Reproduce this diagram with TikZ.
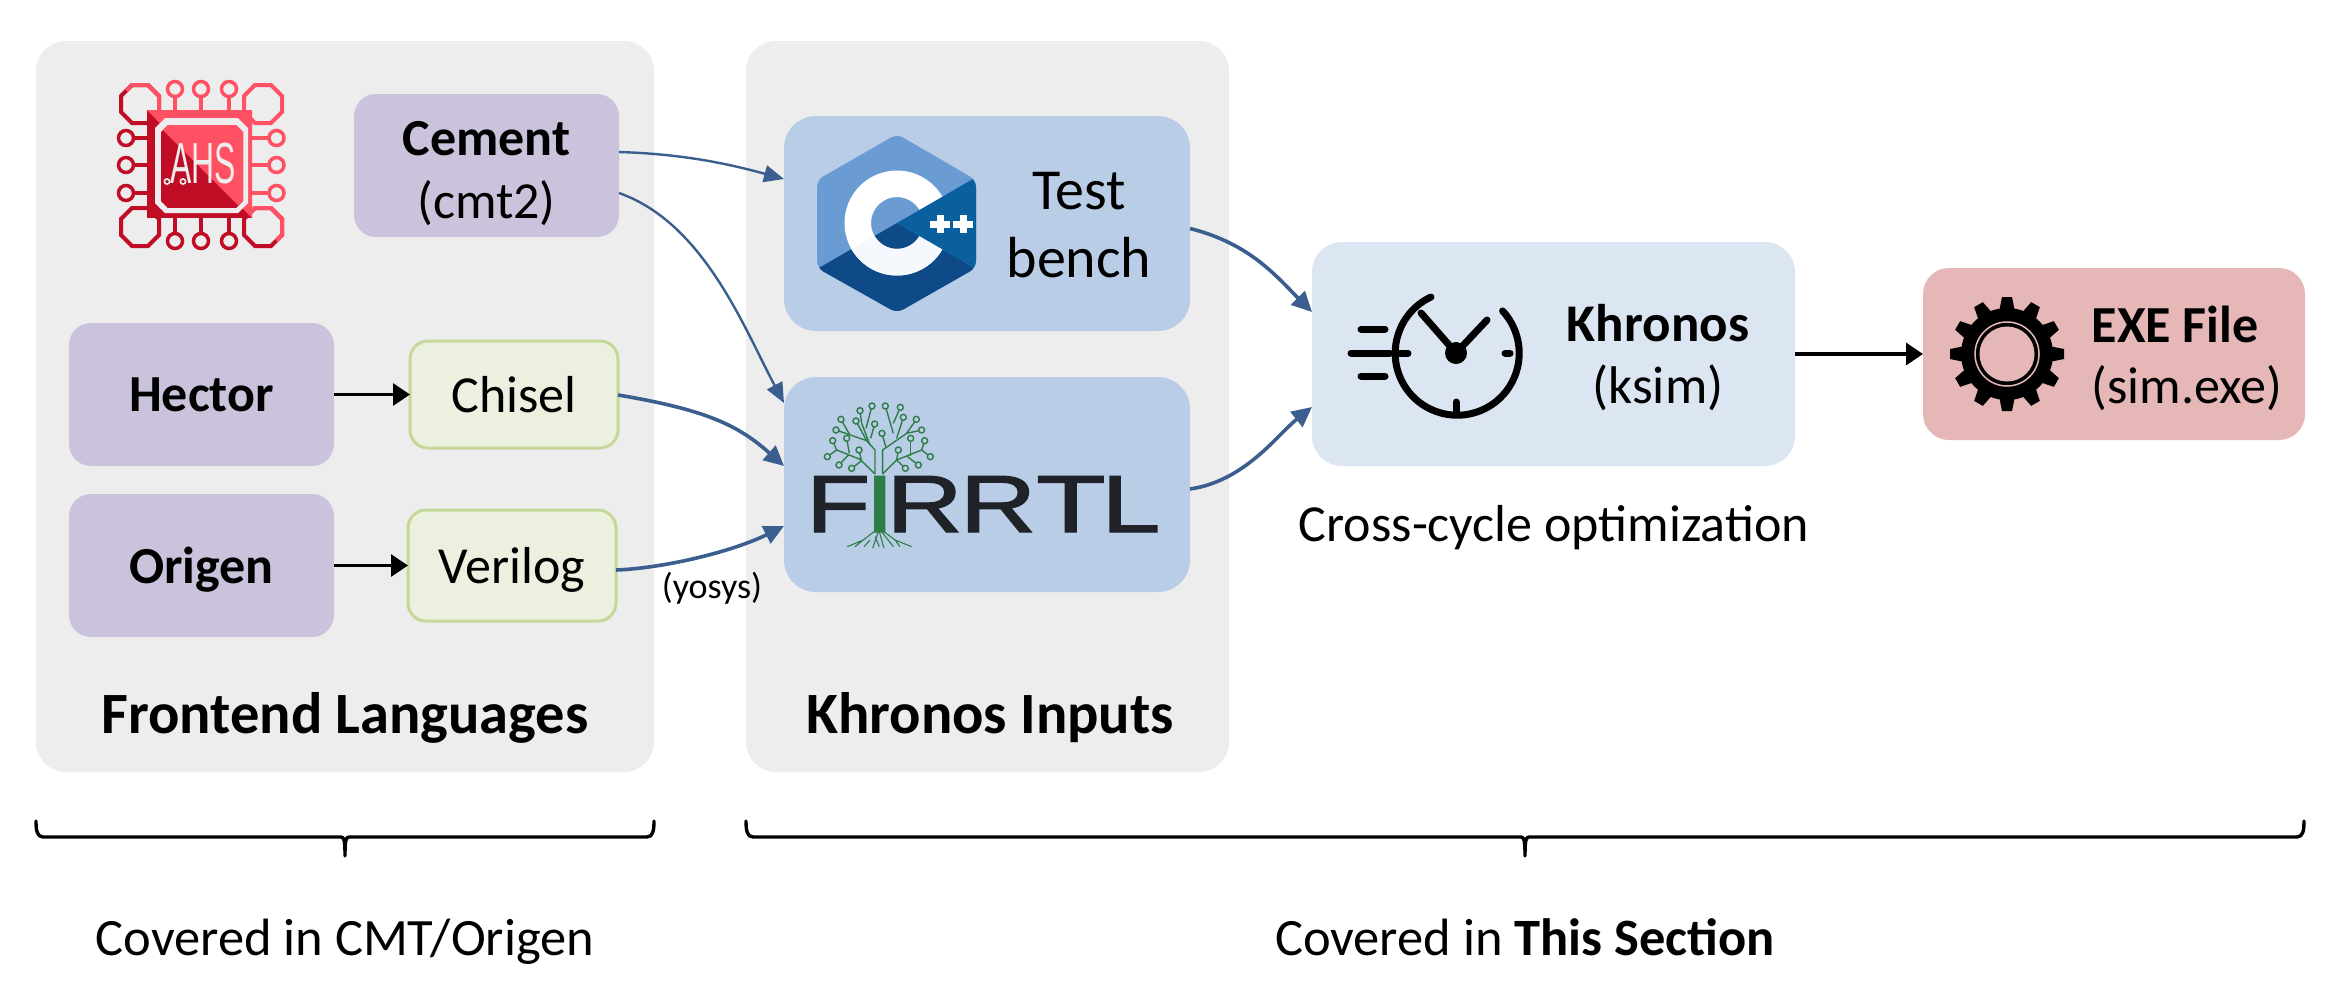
\documentclass[tikz,border=0pt]{standalone}
\usepackage{fontspec}
\setmainfont{Carlito}
\newfontfamily\logofont[FakeBold=1.5]{Liberation Sans}
\newfontfamily\ahsfont{Liberation Sans}
\usetikzlibrary{calc,arrows.meta}
\definecolor{panelc}{HTML}{EDEDED}
\definecolor{purplec}{HTML}{CBC2DB}
\definecolor{greenf}{HTML}{EBF0DF}
\definecolor{greend}{HTML}{C5D89A}
\definecolor{bluebox}{HTML}{B9CDE6}
\definecolor{lightblue}{HTML}{DCE6F2}
\definecolor{redbox}{HTML}{E6B7B7}
\definecolor{flowc}{HTML}{3A5F8F}
\definecolor{ahspink}{HTML}{FF5064}
\definecolor{ahsdark}{HTML}{C00D25}
\definecolor{cpplight}{HTML}{6A9BD3}
\definecolor{cppdark}{HTML}{0E4A87}
\definecolor{cppmid}{HTML}{0A5F9F}
\definecolor{firgreen}{HTML}{2E7D46}
\definecolor{firblack}{HTML}{1F2328}
\newcommand{\fs}[1]{\fontsize{#1}{#1}\selectfont}
\tikzset{
  x=1pt,y=-1pt,
  panel/.style={fill=panelc,rounded corners=30pt},
  box/.style={anchor=north west,inner sep=0pt,outer sep=0pt,align=center,font=\fs{52}},
  purple/.style={box,fill=purplec,rounded corners=22pt},
  lang/.style={box,fill=greenf,draw=greend,line width=3pt,rounded corners=18pt},
  inputbox/.style={box,fill=bluebox,rounded corners=32pt},
  blackarrow/.style={draw=black,line width=2.8pt,-{Triangle[length=17pt,width=22pt]}},
  flowthin/.style={draw=flowc,line width=2.4pt,-{Triangle[length=20pt,width=17pt]}},
  flowthick/.style={draw=flowc,line width=3.6pt,-{Triangle[length=20pt,width=19pt]}},
  bracec/.style={draw=black,line width=3.4pt,line cap=round,line join=round},
  lab/.style={inner sep=0pt,outer sep=0pt,align=center},
}
\newcommand{\ahsocta}[3]{%
  \draw[ahsdark,line width=4pt] #3;
  \begin{scope}
    \clip (#1-24,#2-24) -- (#1+24,#2-24) -- (#1+24,#2+24) -- cycle;
    \draw[ahspink,line width=4pt] #3;
  \end{scope}}
\newcommand{\octapath}[2]{(#1-8,#2-19) -- (#1+8,#2-19) -- (#1+19,#2-8) -- (#1+19,#2+8) -- (#1+8,#2+19) -- (#1-8,#2+19) -- (#1-19,#2+8) -- (#1-19,#2-8) -- cycle}
\begin{document}
\begin{tikzpicture}
\useasboundingbox (0,0) rectangle (2347,1005);
\fill[white] (0,0) rectangle (2347,1005);
% panels
\fill[panel] (36,41) rectangle (654,772);
\fill[panel] (746,41) rectangle (1229,772);

% boxes
\node[purple,minimum width=265pt,minimum height=143pt] (cement) at (354,94)
  {\rule{0pt}{50pt}{\bfseries Cement}\\[11pt](cmt2)};
\node[purple,minimum width=265pt,minimum height=143pt] (hector) at (69,323) {\bfseries Hector};
\node[purple,minimum width=265pt,minimum height=143pt,text depth=0pt] (origen) at (69,494) {\bfseries Origen};
\node[lang,minimum width=208pt,minimum height=107pt] (chisel) at (410,341) {Chisel};
\node[lang,minimum width=208pt,minimum height=111pt,text depth=0pt] (verilog) at (408,510) {Verilog};
\node[inputbox,minimum width=406pt,minimum height=215pt] (tb) at (784,116) {};
\node[inputbox,minimum width=406pt,minimum height=215pt] (fir) at (784,377) {};
\node[box,fill=lightblue,rounded corners=30pt,minimum width=483pt,minimum height=224pt] (khr) at (1312,242) {};
\node[box,fill=redbox,rounded corners=26pt,minimum width=382pt,minimum height=172pt] (exe) at (1923,268) {};

% texts in boxes
\node[lab,font=\fs{58}] (tbtxt) at (1079,225) {Test\\[10pt]bench};
\node[lab,font=\fs{53}] (khrtxt) at (1658,358) {{\bfseries Khronos}\\[9pt](ksim)};
\node[lab,font=\fs{52},align=left] (exetxt) at (2187,358) {{\bfseries EXE File}\\[9pt](sim.exe)};
\node[lab,font=\fs{52},anchor=base] (cross) at (1554,541) {Cross-cycle optimization};
\node[lab,font=\fs{36}] (yosys) at (712,588) {(yosys)};
\node[lab,font=\bfseries\fs{58.5},anchor=base] (fl) at (345,733) {Frontend Languages};
\node[lab,font=\bfseries\fs{58.5},anchor=base] (ki) at (990,733) {Khronos Inputs};
\node[lab,font=\fs{52.5},anchor=base] (cov1) at (345,955) {Covered in CMT/Origen};
\node[lab,font=\fs{52.5},anchor=base] (cov2) at (1525,955) {Covered in {\bfseries This Section}};

% connectors
\draw[blackarrow] (hector.east) -- (chisel.west);
\draw[blackarrow] (origen.east) -- (verilog.west);
\draw[blackarrow,line width=3.4pt] (khr.east) -- (exe.west);
\draw[flowthin] ([yshift=13.5pt]cement.east) .. controls +(65,2) and +(-55,-15) .. ([yshift=44.5pt]tb.west);
\draw[flowthin] ([yshift=-27.5pt]cement.east) .. controls +(85,30) and +(-40,-75) .. ([yshift=81.5pt]fir.west);
\draw[flowthick] ([yshift=-0.5pt]chisel.east) .. controls +(90,15) and +(-45,-40) .. ([yshift=18.5pt]fir.west);
\draw[flowthick] ([yshift=-4.5pt]verilog.east) .. controls +(50,-2) and +(-50,25) .. ([yshift=-41.5pt]fir.west);
\draw[flowthick] ([yshift=-5pt]tb.east) .. controls +(60,15) and +(-35,-35) .. ([yshift=42pt]khr.west);
\draw[flowthick] ([yshift=-4.5pt]fir.east) .. controls +(55,-8) and +(-35,28) .. ([yshift=-53pt]khr.west);

% braces
\draw[bracec] (36,821) .. controls (36,830) and (37,837) .. (43,837) -- (341,837) .. controls (344,837) and (345,840) .. (345,856) .. controls (345,840) and (346,837) .. (349,837) -- (647,837) .. controls (653,837) and (654,830) .. (654,821);
\draw[bracec] (746,821) .. controls (746,830) and (747,837) .. (753,837) -- (1521,837) .. controls (1524,837) and (1525,840) .. (1525,856) .. controls (1525,840) and (1526,837) .. (1529,837) -- (2297,837) .. controls (2303,837) and (2304,830) .. (2304,821);

% AHS logo
\foreach \px in {175,201,229}{
  \draw[ahspink,line width=3.5pt] (\px,96) -- (\px,112);
  \draw[ahspink,line width=3.5pt] (\px,89) circle (7.5);
  \draw[ahsdark,line width=3.5pt] (\px,218) -- (\px,234);
  \draw[ahsdark,line width=3.5pt] (\px,241) circle (7.5);
}
\foreach \py in {138,165,193}{
  \draw[ahsdark,line width=3.5pt] (133,\py) -- (149,\py);
  \draw[ahsdark,line width=3.5pt] (126,\py) circle (7.5);
  \draw[ahspink,line width=3.5pt] (250,\py) -- (270,\py);
  \draw[ahspink,line width=3.5pt] (276.5,\py) circle (7.5);
}
\ahsocta{140}{104}{\octapath{140}{104}}
\draw[ahspink,line width=4pt] \octapath{263}{104};
\draw[ahsdark,line width=4pt] \octapath{140}{227};
\ahsocta{263}{227}{\octapath{263}{227}}
\fill[ahsdark] (147,110) rectangle (252,218);
\fill[ahspink] (147,110) -- (252,110) -- (252,218) -- cycle;
\fill[panelc] (165,118) -- (238,118) -- (248,128) -- (248,203) -- (238,213) -- (165,213) -- (155,203) -- (155,128) -- cycle;
\begin{scope}
  \clip (168,125) -- (236,125) -- (243,132) -- (243,201) -- (236,208) -- (168,208) -- (161,201) -- (161,132) -- cycle;
  \fill[ahsdark] (160,125) rectangle (244,208);
  \fill[ahspink] (160,127) -- (160,125) -- (244,125) -- (244,211) -- cycle;
\end{scope}
\node[lab,text=panelc,font=\ahsfont\fs{58},xscale=0.55] (ahs) at (203,164) {AHS};
\filldraw[fill=ahsdark,draw=panelc,line width=1.6pt] (167,181.5) circle (2.6) (183,181.5) circle (2.6);

% C++ logo
\begin{scope}
  \clip[rounded corners=7pt] (897,134) -- (976,180) -- (976,268) -- (897,313) -- (817,268) -- (817,180) -- cycle;
  \fill[cpplight] (810,125) rectangle (985,320);
  \fill[cppdark] (897,223) -- (985,274) -- (985,320) -- (810,320) -- (810,273) -- cycle;
  \begin{scope}
    \fill[white,even odd rule] (897,223) circle (52.5) (897,223) circle (26);
    \clip (897,223) -- (985,274) -- (985,320) -- (810,320) -- (810,273) -- cycle;
    \fill[white!93!cpplight,even odd rule] (897,223) circle (52.5) (897,223) circle (26);
  \end{scope}
  \fill[cppmid] (897,223) -- (985,172) -- (985,274) -- cycle;
\end{scope}
\foreach \cx in {940,963}{
  \fill[white] (\cx-10,221) rectangle (\cx+10,228);
  \fill[white] (\cx-3.5,215) rectangle (\cx+3.5,233);
}

% FIRRTL logo: tree drawn in coordinates of a 3x crop
\begin{scope}[shift={(760,370)},x=0.3333pt,y=-0.3333pt,draw=firgreen,line width=1.4pt]
  \draw (345,312) -- (345,240) -- (320,212) -- (228,180);
  \draw (268,192) -- (243,148);
  \draw (320,212) -- (288,153);
  \draw (330,225) -- (305,160) -- (300,122);
  \draw (318,175) -- (336,108);
  \draw (332,205) -- (344,162);
  \draw (368,312) -- (368,240) -- (440,190) -- (485,180);
  \draw (440,190) -- (469,148);
  \draw (378,233) -- (366,190);
  \draw (400,190) -- (376,108);
  \draw (400,160) -- (421,112);
  \draw (410,205) -- (430,142);
  \draw (345,312) -- (300,268) -- (230,240) -- (202,260);
  \draw (230,240) -- (218,212);
  \draw (265,255) -- (237,285);
  \draw (268,250) -- (260,205);
  \draw (305,275) -- (297,240);
  \draw (305,272) -- (275,295);
  \draw (368,312) -- (410,270) -- (485,240) -- (511,260);
  \draw (485,240) -- (494,212);
  \draw (452,258) -- (452,205);
  \draw (410,270) -- (415,240);
  \draw (440,258) -- (475,285);
  \draw (410,270) -- (436,295);
  \foreach \cx/\cy in {202/260,218/212,228/180,243/148,237/285,275/295,260/205,297/240,288/153,300/122,336/108,344/162,366/190,376/108,421/112,430/142,469/148,485/180,494/212,452/205,415/240,511/260,475/285,436/295}
    \filldraw[fill=bluebox] (\cx,\cy) circle (9);
  \draw[line width=1.1pt] (342,485) -- (310,510) -- (262,530) (310,510) -- (285,530) (355,485) -- (338,535) (330,510) -- (312,530) (358,485) -- (372,535) (365,485) -- (400,530) (372,485) -- (405,510) -- (455,530) (405,510) -- (420,530) (345,500) -- (358,530);
\end{scope}
\node[anchor=base west,inner sep=0pt,outer sep=0pt,text=firblack,font=\logofont\fs{81},xscale=1.3] (firlogo) at (806,532)
  {F\kern-4pt{\color{firgreen}I}\kern-6pt R\kern-2pt R\kern0pt\scalebox{1.08}[1]{T}\kern-3pt L};

% clock
\begin{scope}[line width=7pt,line cap=round]
  \draw (1431,297) arc[start angle=-115,end angle=-403,radius=62];
  \draw (1421,313) -- (1456,353) -- (1487,320);
  \draw (1399,353) -- (1408,353);
  \draw (1505,353) -- (1510,353);
  \draw (1456,402) -- (1456,412);
  \draw (1361,329) -- (1385,329);
  \draw (1351,353) -- (1390,353);
  \draw (1361,376) -- (1385,376);
  \fill (1456,353) circle (11);
\end{scope}

% gear
\fill[black] (2007,354) circle (46);
\foreach \a in {0,30,...,330}{
  \fill[black,rotate around={\a:(2007,354)}] (1999,312) -- (2015,312) -- (2012,297) -- (2002,297) -- cycle;
}
\draw[redbox,line width=1.5pt] (2007,354) circle (32);
\fill[redbox] (2007,354) circle (27.5);
\end{tikzpicture}
\end{document}
